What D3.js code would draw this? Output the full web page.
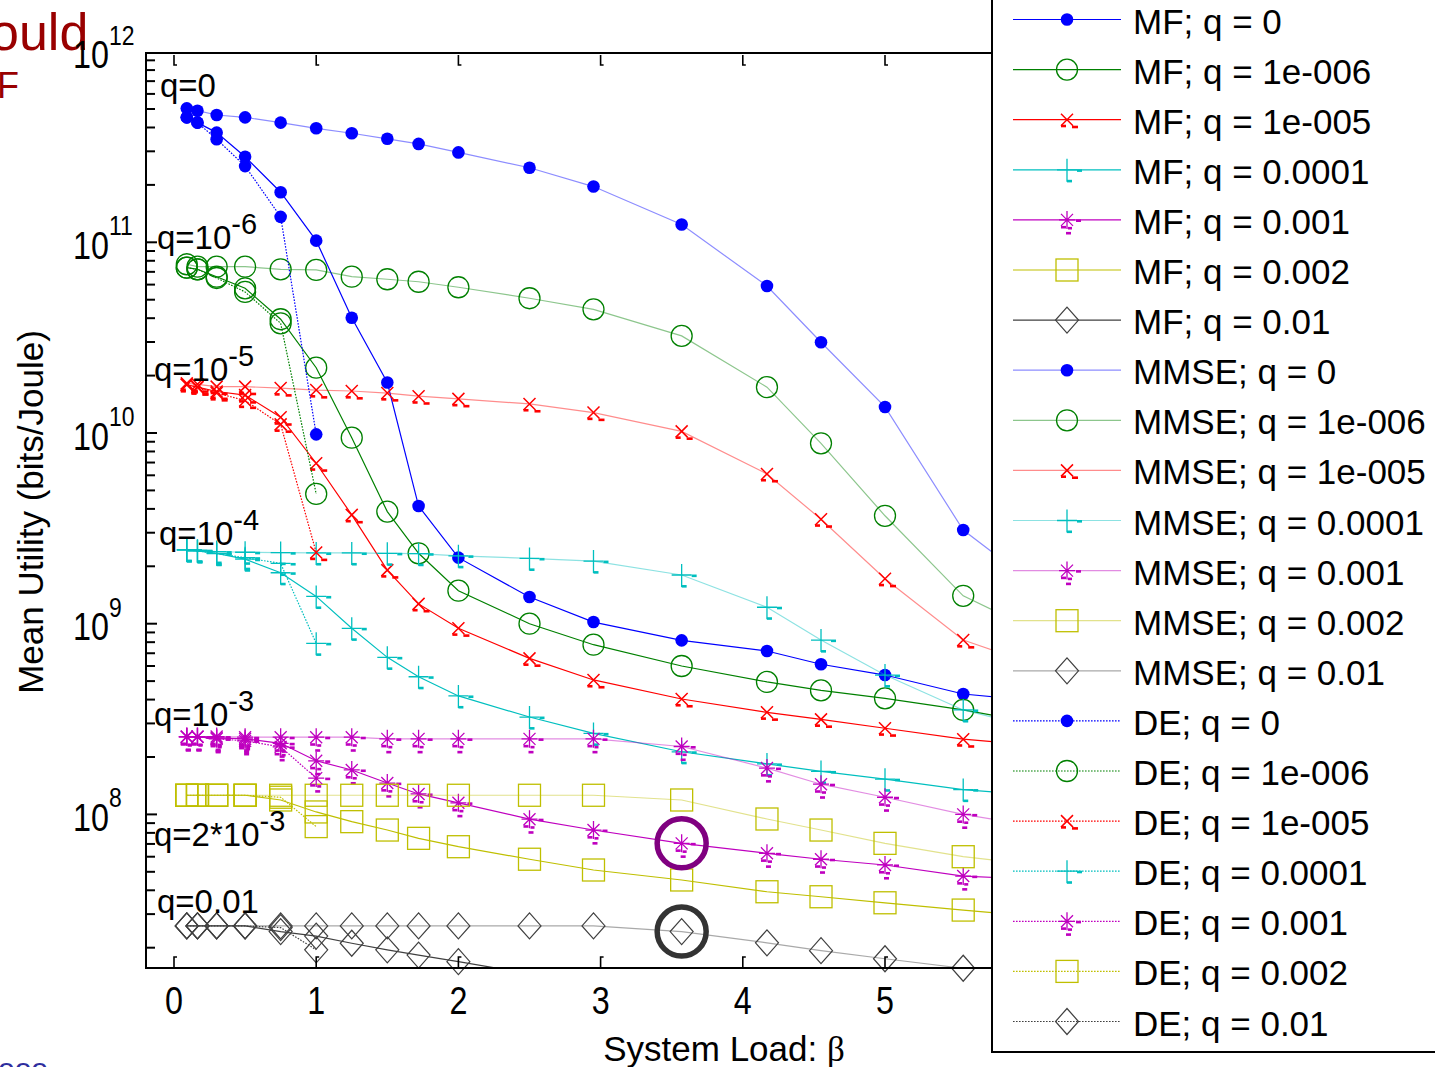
<!DOCTYPE html>
<html>
<head>
<meta charset="utf-8">
<script src="https://cdn.jsdelivr.net/npm/d3@7"></script>
<style>
  html, body { margin: 0; padding: 0; background: #fff; overflow: hidden; }
  svg { display: block; font-family: "Liberation Sans", Arial, Helvetica, sans-serif; }
</style>
</head>
<body>
<svg id="chart" width="1435" height="1067"></svg>
<script>
// System load values (beta = K/N) at which the utility was evaluated
const beta = [0.09, 0.165, 0.3, 0.5, 0.75, 1, 1.25, 1.5, 1.72, 2, 2.5, 2.95, 3.57, 4.17, 4.55, 5, 5.55, 6.25];
// The decorrelator only exists up to beta = 1
const betaDE = [0.09, 0.165, 0.3, 0.5, 0.75, 1];

const qLabels = ["0", "1e-006", "1e-005", "0.0001", "0.001", "0.002", "0.01"];
const receivers = ["MF", "MMSE", "DE"];

// Matched filter, mean utility (bits/Joule)
const mfQ0    = [4.52e11, 4.24e11, 3.76e11, 2.81e11, 1.83e11, 1.02e11, 4.02e10, 1.84e10, 4.14e9, 2.22e9, 1.38e9, 1.02e9, 8.18e8, 7.19e8, 6.13e8, 5.38e8, 4.28e8, 3.82e8];
const mfQ1e6  = [7.36e10, 7.22e10, 6.60e10, 5.74e10, 3.95e10, 2.20e10, 9.45e9, 3.87e9, 2.34e9, 1.49e9, 1.00e9, 7.76e8, 6.00e8, 4.95e8, 4.47e8, 4.06e8, 3.53e8, 2.84e8];
const mfQ1e5  = [1.79e10, 1.74e10, 1.65e10, 1.58e10, 1.21e10, 6.94e9, 3.72e9, 1.91e9, 1.27e9, 9.46e8, 6.58e8, 5.07e8, 4.03e8, 3.43e8, 3.15e8, 2.83e8, 2.48e8, 2.24e8];
const mfQ1e4  = [2.44e9, 2.41e9, 2.34e9, 2.18e9, 1.85e9, 1.39e9, 9.46e8, 6.66e8, 5.27e8, 4.18e8, 3.24e8, 2.66e8, 2.13e8, 1.84e8, 1.68e8, 1.53e8, 1.35e8, 1.23e8];
const mfQ1e3  = [2.55e8, 2.55e8, 2.52e8, 2.49e8, 2.36e8, 1.91e8, 1.71e8, 1.46e8, 1.28e8, 1.15e8, 9.44e7, 8.28e7, 7.05e7, 6.25e7, 5.82e7, 5.43e7, 4.75e7, 4.50e7];
const mfQ2e3  = [1.26e8, 1.26e8, 1.26e8, 1.26e8, 1.19e8, 1.03e8, 9.16e7, 8.28e7, 7.49e7, 6.77e7, 5.82e7, 5.11e7, 4.53e7, 3.93e7, 3.70e7, 3.44e7, 3.15e7, 2.83e7];
const mfQ1e2  = [2.60e7, 2.60e7, 2.60e7, 2.60e7, 2.43e7, 2.30e7, 2.11e7, 1.95e7, 1.83e7, 1.69e7, 1.46e7, 1.32e7, 1.17e7, 1.06e7, 1.02e7, 9.8e6, 9.3e6, 8.8e6];

// Linear MMSE receiver
const mmseQ0   = [5.04e11, 4.90e11, 4.65e11, 4.52e11, 4.24e11, 3.96e11, 3.73e11, 3.49e11, 3.28e11, 2.96e11, 2.46e11, 1.96e11, 1.24e11, 5.90e10, 2.99e10, 1.37e10, 3.10e9, 1.24e9];
const mmseQ1e6 = [7.67e10, 7.45e10, 7.45e10, 7.45e10, 7.22e10, 7.16e10, 6.60e10, 6.40e10, 6.21e10, 5.81e10, 5.09e10, 4.45e10, 3.23e10, 1.74e10, 8.83e9, 3.68e9, 1.40e9, 7.84e8];
const mmseQ1e5 = [1.82e10, 1.80e10, 1.75e10, 1.75e10, 1.72e10, 1.68e10, 1.66e10, 1.62e10, 1.56e10, 1.51e10, 1.42e10, 1.28e10, 1.02e10, 6.10e9, 3.53e9, 1.72e9, 8.21e8, 5.42e8];
const mmseQ1e4 = [2.44e9, 2.43e9, 2.39e9, 2.37e9, 2.36e9, 2.35e9, 2.35e9, 2.34e9, 2.33e9, 2.27e9, 2.20e9, 2.13e9, 1.80e9, 1.22e9, 8.21e8, 5.38e8, 3.53e8, 2.61e8];
const mmseQ1e3 = [2.56e8, 2.56e8, 2.56e8, 2.54e8, 2.54e8, 2.54e8, 2.54e8, 2.49e8, 2.49e8, 2.49e8, 2.49e8, 2.49e8, 2.27e8, 1.75e8, 1.44e8, 1.23e8, 1.00e8, 8.23e7];
const mmseQ2e3 = [1.26e8, 1.26e8, 1.26e8, 1.26e8, 1.26e8, 1.26e8, 1.26e8, 1.26e8, 1.26e8, 1.26e8, 1.26e8, 1.26e8, 1.19e8, 9.46e7, 8.28e7, 7.05e7, 6.00e7, 5.24e7];
const mmseQ1e2 = [2.60e7, 2.60e7, 2.60e7, 2.60e7, 2.60e7, 2.60e7, 2.60e7, 2.60e7, 2.60e7, 2.60e7, 2.60e7, 2.60e7, 2.43e7, 2.12e7, 1.93e7, 1.75e7, 1.56e7, 1.39e7];

// Decorrelator
const deQ0   = [4.52e11, 4.24e11, 3.47e11, 2.51e11, 1.36e11, 9.84e9];
const deQ1e6 = [7.36e10, 7.22e10, 6.50e10, 5.49e10, 3.76e10, 4.79e9];
const deQ1e5 = [1.79e10, 1.74e10, 1.62e10, 1.48e10, 1.11e10, 2.36e9];
const deQ1e4 = [2.44e9, 2.41e9, 2.33e9, 2.22e9, 2.07e9, 7.89e8];
const deQ1e3 = [2.55e8, 2.55e8, 2.49e8, 2.43e8, 2.26e8, 1.55e8];
const deQ2e3 = [1.26e8, 1.26e8, 1.26e8, 1.26e8, 1.23e8, 8.63e7];
const deQ1e2 = [2.60e7, 2.60e7, 2.60e7, 2.60e7, 2.55e7, 1.95e7];

// Ticks
const xTicks = [0, 1, 2, 3, 4, 5];
const yDecades = [8, 9, 10, 11, 12];

// ---------------------------------------------------------------
const colors = ["#0000ff", "#008000", "#ff0000", "#00bfbf", "#bf00bf", "#bfbf00", "#404040"];
const shapes = ["dot", "circle", "x", "plus", "star", "square", "diamond"];

const seriesValues = {
  MF:   [mfQ0, mfQ1e6, mfQ1e5, mfQ1e4, mfQ1e3, mfQ2e3, mfQ1e2],
  MMSE: [mmseQ0, mmseQ1e6, mmseQ1e5, mmseQ1e4, mmseQ1e3, mmseQ2e3, mmseQ1e2],
  DE:   [deQ0, deQ1e6, deQ1e5, deQ1e4, deQ1e3, deQ2e3, deQ1e2]
};
const series = [];
receivers.forEach(r => {
  qLabels.forEach((q, i) => {
    const xs = r === "DE" ? betaDE : beta;
    series.push({
      receiver: r, q, color: colors[i], shape: shapes[i],
      points: xs.map((b, k) => [b, seriesValues[r][i][k]])
    });
  });
});

const svg = d3.select("#chart");
const frame = { left: 146, top: 53, bottom: 968, right: 992 };

const x = d3.scaleLinear().domain([0, 5]).range([174, 885]);
const y = d3.scaleLog().domain([1e8, 1e12]).range([814.4, 51.6]);

// stray slide text around the figure
svg.append("text").attr("x", -10).attr("y", 50).attr("font-size", 52)
  .attr("fill", "#990000").text("ould");
svg.append("text").attr("x", -3).attr("y", 98).attr("font-size", 36)
  .attr("fill", "#990000").text("F");
svg.append("text").attr("x", -2).attr("y", 1079).attr("font-size", 30)
  .attr("fill", "#2e2e9e").text("ooo");

// clip region for the curves
svg.append("defs").append("clipPath").attr("id", "plotClip")
  .append("rect").attr("x", frame.left).attr("y", frame.top)
  .attr("width", 1200 - frame.left).attr("height", frame.bottom - frame.top);

const lineGen = d3.line().x(d => x(d[0])).y(d => y(d[1]));

function lineStyle(sel, s) {
  sel.attr("fill", "none").attr("stroke", s.color).attr("stroke-width", 1.2);
  if (s.receiver === "MMSE") sel.attr("stroke-opacity", 0.45);
  if (s.receiver === "DE") sel.attr("stroke-dasharray", "1.6,1.4");
  return sel;
}

function marker(g, shape, cx, cy, c) {
  const dash = (dx, dy, w) => g.append("rect").attr("x", cx + dx).attr("y", cy + dy)
    .attr("width", w).attr("height", 2.6).attr("fill", c);
  switch (shape) {
    case "dot":
      g.append("circle").attr("cx", cx).attr("cy", cy).attr("r", 6.3).attr("fill", c);
      break;
    case "circle":
      g.append("circle").attr("cx", cx).attr("cy", cy).attr("r", 10.5)
        .attr("fill", "none").attr("stroke", c).attr("stroke-width", 1.3);
      break;
    case "x":
      g.append("path").attr("d", `M${cx - 6},${cy - 6}L${cx + 6},${cy + 6}M${cx - 6},${cy + 6}L${cx + 6},${cy - 6}`)
        .attr("stroke", c).attr("stroke-width", 1.5).attr("fill", "none");
      dash(-6, 5, 5); dash(5, 6, 6);
      break;
    case "plus":
      g.append("path").attr("d", `M${cx},${cy - 11}V${cy + 12}M${cx - 10},${cy}H${cx + 10}`)
        .attr("stroke", c).attr("stroke-width", 1.3).attr("fill", "none");
      dash(10, -0.5, 5); dash(0, 10, 5);
      break;
    case "star":
      g.append("path").attr("d",
        `M${cx},${cy - 9}V${cy + 9}M${cx - 8},${cy}H${cx + 8}` +
        `M${cx - 6},${cy - 6}L${cx + 6},${cy + 6}M${cx - 6},${cy + 6}L${cx + 6},${cy - 6}`)
        .attr("stroke", c).attr("stroke-width", 1.3).attr("fill", "none");
      dash(9, -0.5, 5); dash(-6, 6, 5); dash(1, 7, 4); dash(-1, 12, 5);
      break;
    case "square":
      g.append("rect").attr("x", cx - 11).attr("y", cy - 11).attr("width", 22).attr("height", 22)
        .attr("fill", "none").attr("stroke", c).attr("stroke-width", 1.3);
      break;
    case "diamond":
      g.append("path").attr("d", `M${cx},${cy - 13}L${cx + 11.5},${cy}L${cx},${cy + 13}L${cx - 11.5},${cy}Z`)
        .attr("fill", "none").attr("stroke", c).attr("stroke-width", 1.2);
      break;
  }
}

// curves
const curves = svg.append("g");
series.forEach(s => {
  const g = curves.append("g");
  lineStyle(g.append("path").attr("clip-path", "url(#plotClip)").attr("d", lineGen(s.points)), s);
  s.points.forEach(p => {
    const cx = x(p[0]), cy = y(p[1]);
    if (cy <= frame.bottom + 1 && cy >= frame.top && cx < frame.right) marker(g, s.shape, cx, cy, s.color);
  });
});

// highlighted operating points at beta = 3.57
const hiIdx = 12;
svg.append("circle").attr("cx", x(beta[hiIdx])).attr("cy", y(mfQ1e3[hiIdx])).attr("r", 24.5)
  .attr("fill", "none").attr("stroke", "#800080").attr("stroke-width", 5.5);
svg.append("circle").attr("cx", x(beta[hiIdx])).attr("cy", y(mmseQ1e2[hiIdx])).attr("r", 24.5)
  .attr("fill", "none").attr("stroke", "#333333").attr("stroke-width", 5.5);

// axes frame
const axes = svg.append("g").attr("stroke", "#000").attr("fill", "none");
axes.append("path").attr("d", `M${frame.right},${frame.top}H${frame.left}V${frame.bottom}H${frame.right}`)
  .attr("stroke-width", 2);

// y ticks (log, with minor ticks)
for (let e = 7; e <= 11; e++) {
  for (let m = 1; m <= 9; m++) {
    const v = m * Math.pow(10, e), ty = y(v);
    if (ty < frame.top - 1 || ty > frame.bottom) continue;
    axes.append("path").attr("d", `M${frame.left},${ty}H${frame.left + (m === 1 ? 11 : 9)}`)
      .attr("stroke-width", 2);
  }
}
// x ticks, top and bottom
xTicks.forEach(t => {
  const tx = x(t);
  axes.append("path").attr("d", `M${tx},${frame.top + 2}V${frame.top + 12}h3`).attr("stroke-width", 1.6);
  axes.append("path").attr("d", `M${tx},${frame.bottom}V${frame.bottom - 11}h3`).attr("stroke-width", 1.6);
});

// tick labels (narrow axis font)
const tickFont = 38, supFont = 27, squeeze = 0.85;
xTicks.forEach(t => {
  svg.append("text").attr("transform", `translate(${x(t)},1014) scale(${squeeze},1)`)
    .attr("text-anchor", "middle").attr("font-size", tickFont).text(t);
});
yDecades.forEach(e => {
  const ty = y(Math.pow(10, e));
  svg.append("text").attr("transform", `translate(73,${ty + 16.5}) scale(${squeeze},1)`)
    .attr("font-size", tickFont).text("10");
  svg.append("text").attr("transform", `translate(109,${ty - 7}) scale(${squeeze},1)`)
    .attr("font-size", supFont).text(e);
});

// axis titles
svg.append("text").attr("transform", "translate(43,512) rotate(-90)")
  .attr("text-anchor", "middle").attr("font-size", 35).text("Mean Utility (bits/Joule)");
const xt = svg.append("text").attr("x", 724).attr("y", 1061).attr("text-anchor", "middle").attr("font-size", 35);
xt.append("tspan").text("System Load: ");
xt.append("tspan").attr("font-family", "Liberation Serif, Times New Roman, serif").text("β");

// in-plot group labels
const qTags = [
  { x: 160, y: 97, base: "q=0", sup: "" },
  { x: 157, y: 249, base: "q=10", sup: "-6" },
  { x: 154, y: 381, base: "q=10", sup: "-5" },
  { x: 159, y: 545, base: "q=10", sup: "-4" },
  { x: 154, y: 726, base: "q=10", sup: "-3" },
  { x: 154, y: 846, base: "q=2*10", sup: "-3" },
  { x: 157, y: 913, base: "q=0.01", sup: "" }
];
qTags.forEach(t => {
  const txt = svg.append("text").attr("x", t.x).attr("y", t.y).attr("font-size", 33);
  txt.append("tspan").text(t.base);
  if (t.sup) txt.append("tspan").attr("dy", -15).attr("font-size", 29).text(t.sup);
});

// legend
const lg = svg.append("g");
lg.append("rect").attr("x", 992).attr("y", -10).attr("width", 500).attr("height", 1062)
  .attr("fill", "#fff").attr("stroke", "#000").attr("stroke-width", 2);
series.forEach((s, i) => {
  const ry = 19.5 + i * 50.1;
  lineStyle(lg.append("path").attr("d", `M1013,${ry}H1121`), s);
  marker(lg, s.shape, 1067, ry, s.color);
  lg.append("text").attr("x", 1133).attr("y", ry + 14).attr("font-size", 35)
    .text(`${s.receiver}; q = ${s.q}`);
});
</script>
</body>
</html>
